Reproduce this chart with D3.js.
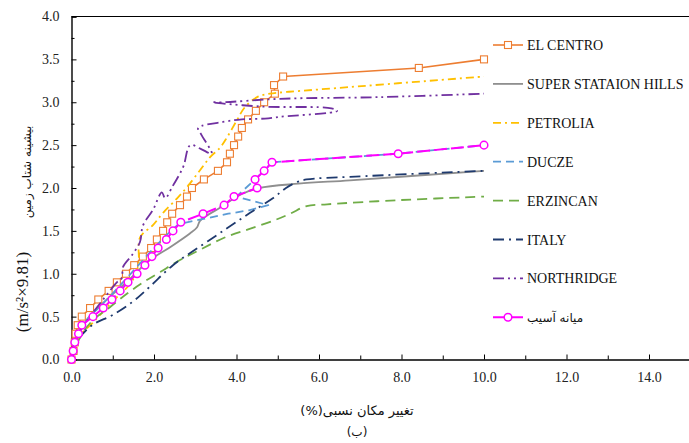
<!DOCTYPE html>
<html><head><meta charset="utf-8">
<script src="https://cdn.jsdelivr.net/npm/d3@7"></script>
<style>body{margin:0;background:#fff}svg{display:block}</style>
</head><body>
<svg id="c" width="689" height="443"></svg>
<script>
// ---------- data ----------
const xTickValues = [0, 2, 4, 6, 8, 10, 12, 14];
const yTickValues = [0, 0.5, 1, 1.5, 2, 2.5, 3, 3.5, 4];
const seriesNames = ["EL CENTRO", "SUPER STATAION HILLS", "PETROLIA", "DUCZE", "ERZINCAN", "ITALY", "NORTHRIDGE", "میانه آسیب"];

const elCentroX = [0, 0.05, 0.08, 0.1, 0.15, 0.25, 0.45, 0.65, 0.9, 1.1, 1.32, 1.52, 1.73, 1.93, 2.07, 2.22, 2.32, 2.44, 2.63, 2.8, 2.92, 3.21, 3.55, 3.77, 3.84, 3.94, 4.04, 4.13, 4.28, 4.47, 4.67, 4.93, 4.91, 5.13, 8.42, 10.0];
const elCentroY = [0, 0.1, 0.2, 0.3, 0.4, 0.5, 0.6, 0.7, 0.8, 0.9, 1.0, 1.1, 1.2, 1.3, 1.4, 1.5, 1.6, 1.7, 1.8, 1.9, 2.0, 2.1, 2.2, 2.3, 2.4, 2.5, 2.6, 2.7, 2.8, 2.9, 3.0, 3.1, 3.2, 3.3, 3.4, 3.5];

const superX = [0, 0.1, 0.35, 0.77, 1.35, 1.9, 2.39, 2.87, 3.04, 3.12, 3.6, 4.13, 4.55, 5.5, 6.75, 10.0];
const superY = [0, 0.22, 0.45, 0.66, 0.91, 1.16, 1.31, 1.47, 1.54, 1.62, 1.77, 1.93, 2.0, 2.05, 2.09, 2.2];

const petroliaX = [0, 0.15, 0.5, 1.0, 1.45, 1.62, 1.66, 1.98, 2.22, 2.56, 2.8, 3.12, 3.36, 3.6, 3.77, 4.01, 4.2, 4.5, 4.81, 5.22, 6.02, 10.0];
const petroliaY = [0, 0.25, 0.42, 0.68, 0.9, 1.1, 1.42, 1.57, 1.71, 1.88, 2.01, 2.21, 2.36, 2.47, 2.59, 2.79, 2.94, 3.06, 3.1, 3.12, 3.15, 3.3];

const duczeX = [0, 0.1, 0.4, 0.9, 1.4, 1.9, 2.3, 2.6, 3.2, 3.8, 4.3, 4.77, 4.0, 4.45, 4.67, 4.86, 7.92, 10.0];
const duczeY = [0, 0.25, 0.48, 0.72, 0.98, 1.25, 1.45, 1.58, 1.64, 1.7, 1.74, 1.8, 1.9, 2.1, 2.2, 2.3, 2.4, 2.5];

const erzincanX = [0, 0.2, 0.5, 0.93, 1.35, 1.74, 2.15, 2.63, 3.12, 3.7, 4.3, 4.9, 5.3, 5.7, 6.2, 8.0, 10.0];
const erzincanY = [0, 0.25, 0.45, 0.61, 0.77, 0.9, 1.02, 1.16, 1.28, 1.42, 1.52, 1.62, 1.7, 1.79, 1.81, 1.86, 1.9];

const italyX = [0, 0.15, 0.5, 1.0, 1.5, 1.9, 2.46, 3.12, 3.77, 4.33, 4.88, 5.2, 5.47, 5.7, 6.75, 10.0];
const italyY = [0, 0.22, 0.4, 0.52, 0.68, 0.85, 1.1, 1.32, 1.53, 1.71, 1.88, 2.0, 2.07, 2.1, 2.13, 2.2];

const northridgeX = [0, 0.15, 0.45, 0.8, 1.1, 1.22, 1.25, 1.47, 1.66, 1.73, 1.98, 2.19, 2.27, 2.45, 2.63, 2.72, 2.88, 3.12, 3.4, 3.15, 3.07, 3.67, 4.13, 4.69, 5.05, 6.44, 6.3, 4.6, 3.41, 3.67, 5.05, 7.48, 10.0];
const northridgeY = [0, 0.28, 0.5, 0.72, 0.9, 0.95, 1.08, 1.22, 1.37, 1.56, 1.75, 1.95, 1.88, 2.02, 2.17, 2.26, 2.5, 2.46, 2.4, 2.62, 2.7, 2.77, 2.8, 2.81, 2.83, 2.9, 2.93, 2.95, 3.0, 3.0, 3.04, 3.06, 3.1];

const averageX = [0, 0.04, 0.08, 0.17, 0.25, 0.52, 0.77, 0.98, 1.18, 1.37, 1.59, 1.78, 1.95, 2.1, 2.3, 2.46, 2.65, 3.19, 3.7, 3.94, 4.5, 4.45, 4.67, 4.86, 7.92, 10.0];
const averageY = [0, 0.1, 0.2, 0.3, 0.4, 0.5, 0.6, 0.7, 0.8, 0.9, 1.0, 1.1, 1.2, 1.3, 1.4, 1.5, 1.6, 1.7, 1.8, 1.9, 2.0, 2.1, 2.2, 2.3, 2.4, 2.5];

// ---------- styles ----------
const styles = [
  {color: "#ED7D31", dash: null, width: 1.6, marker: "square", smooth: false},
  {color: "#8F8F8F", dash: null, width: 1.8, marker: null, smooth: true},
  {color: "#FFC000", dash: "8,4,2,4", width: 1.8, marker: null, smooth: true},
  {color: "#5B9BD5", dash: "8,5", width: 1.8, marker: null, smooth: false},
  {color: "#70AD47", dash: "10,6", width: 1.8, marker: null, smooth: true},
  {color: "#1F3A6E", dash: "11,5,2,5", width: 1.8, marker: null, smooth: true},
  {color: "#7030A0", dash: "11,4,2,4,2,4", width: 1.8, marker: null, smooth: true},
  {color: "#FF00FF", dash: "13,4", width: 2.0, marker: "circle", smooth: false}
];
const xs = [elCentroX, superX, petroliaX, duczeX, erzincanX, italyX, northridgeX, averageX];
const ys = [elCentroY, superY, petroliaY, duczeY, erzincanY, italyY, northridgeY, averageY];
const series = seriesNames.map((n, i) => ({name: n, pts: xs[i].map((x, j) => [x, ys[i][j]]), st: styles[i]}));

// ---------- chart ----------
const svg = d3.select("#c");
const x = d3.scaleLinear().domain([0, 15]).range([71.5, 690.25]);
const y = d3.scaleLinear().domain([0, 4]).range([359.5, 16.5]);
const serif = "'Liberation Serif','Times New Roman','DejaVu Serif',serif";
const faFont = "'DejaVu Sans','Noto Sans',sans-serif";
const RLE = "\u202B", PDF = "\u202C";

svg.append("line").attr("x1", x(0)).attr("x2", 689).attr("y1", y(4)).attr("y2", y(4)).attr("stroke", "#000").attr("stroke-width", 1.2);

const xAxisMinor = d3.axisBottom(x).tickValues(d3.range(1, 15, 2)).tickSize(-4).tickFormat("");
svg.append("g").attr("transform", `translate(0,${y(0)})`).call(xAxisMinor)
  .call(g => g.select(".domain").remove())
  .call(g => g.selectAll("line").attr("stroke", "#000"));
const xAxis = d3.axisBottom(x).tickValues(xTickValues).tickSize(-5).tickPadding(13).tickFormat(d3.format(".1f"));
svg.append("g").attr("transform", `translate(0,${y(0)})`).call(xAxis)
  .call(g => g.select(".domain").attr("stroke", "#000").attr("stroke-width", 1.4))
  .call(g => g.selectAll("text").style("font-family", serif).style("font-size", "14px").attr("fill", "#222"));

const yAxisMinor = d3.axisLeft(y).tickValues(d3.range(0.25, 4, 0.5)).tickSize(-3).tickFormat("");
svg.append("g").attr("transform", `translate(${x(0)},0)`).call(yAxisMinor)
  .call(g => g.select(".domain").remove())
  .call(g => g.selectAll("line").attr("stroke", "#000"));
const yAxis = d3.axisLeft(y).tickValues(yTickValues).tickSize(-5).tickPadding(12).tickFormat(d3.format(".1f"));
svg.append("g").attr("transform", `translate(${x(0)},0)`).call(yAxis)
  .call(g => g.select(".domain").attr("stroke", "#000").attr("stroke-width", 1.4))
  .call(g => g.selectAll("text").style("font-family", serif).style("font-size", "14px").attr("fill", "#222"));

// lines
const smoothLine = d3.line().x(d => x(d[0])).y(d => y(d[1])).curve(d3.curveCatmullRom.alpha(0.5));
const straightLine = d3.line().x(d => x(d[0])).y(d => y(d[1]));
series.forEach(s => {
  svg.append("path").datum(s.pts).attr("d", s.st.smooth ? smoothLine : straightLine)
    .attr("fill", "none").attr("stroke", s.st.color).attr("stroke-width", s.st.width)
    .attr("stroke-linejoin", "round")
    .attr("stroke-dasharray", s.st.dash);
  if (s.st.marker === "square") {
    svg.append("g").selectAll("rect").data(s.pts).join("rect")
      .attr("x", d => x(d[0]) - 3.5).attr("y", d => y(d[1]) - 3.5).attr("width", 7).attr("height", 7)
      .attr("fill", "#fff").attr("stroke", s.st.color).attr("stroke-width", 1.1);
  } else if (s.st.marker === "circle") {
    svg.append("g").selectAll("circle").data(s.pts).join("circle")
      .attr("cx", d => x(d[0])).attr("cy", d => y(d[1])).attr("r", 3.8)
      .attr("fill", "#fff").attr("stroke", s.st.color).attr("stroke-width", 1.5);
  }
});

// legend
const lg = svg.append("g");
series.forEach((s, i) => {
  const cy = 45 + i * 38.9;
  const g = lg.append("g");
  g.append("line").attr("x1", 493).attr("x2", 523).attr("y1", cy).attr("y2", cy)
    .attr("stroke", s.st.color).attr("stroke-width", s.st.width).attr("stroke-dasharray", s.st.dash);
  if (s.st.marker === "square") {
    g.append("rect").attr("x", 504.5).attr("y", cy - 3.5).attr("width", 7).attr("height", 7)
      .attr("fill", "#fff").attr("stroke", s.st.color).attr("stroke-width", 1.1);
  } else if (s.st.marker === "circle") {
    g.append("circle").attr("cx", 508).attr("cy", cy).attr("r", 3.8)
      .attr("fill", "#fff").attr("stroke", s.st.color).attr("stroke-width", 1.5);
  }
  const isFa = i === 7;
  g.append("text").attr("x", 527).attr("y", cy + 5)
    .style("font-family", isFa ? faFont : serif)
    .style("font-size", isFa ? "12px" : "14px").attr("fill", "#111")
    .text(isFa ? RLE + s.name + PDF : s.name);
});

// axis titles
svg.append("text").attr("x", 357).attr("y", 415).attr("text-anchor", "middle")
  .style("font-family", faFont).style("font-size", "13px").attr("fill", "#111")
  .text(RLE + "تغییر مکان نسبی(%)" + PDF);
svg.append("text").attr("x", 357).attr("y", 436).attr("text-anchor", "middle")
  .style("font-family", faFont).style("font-size", "12px").attr("fill", "#111")
  .text(RLE + "(ب)" + PDF);
svg.append("text").attr("transform", "translate(28,292) rotate(-90)").attr("text-anchor", "middle")
  .style("font-family", serif).style("font-size", "17px").attr("fill", "#111").text("(m/s²×9.81)");
svg.append("text").attr("transform", "translate(31,172) rotate(-90)").attr("text-anchor", "middle")
  .style("font-family", faFont).style("font-size", "12px").attr("fill", "#111")
  .text("بیشینه شتاب زمین");
</script>
</body></html>
